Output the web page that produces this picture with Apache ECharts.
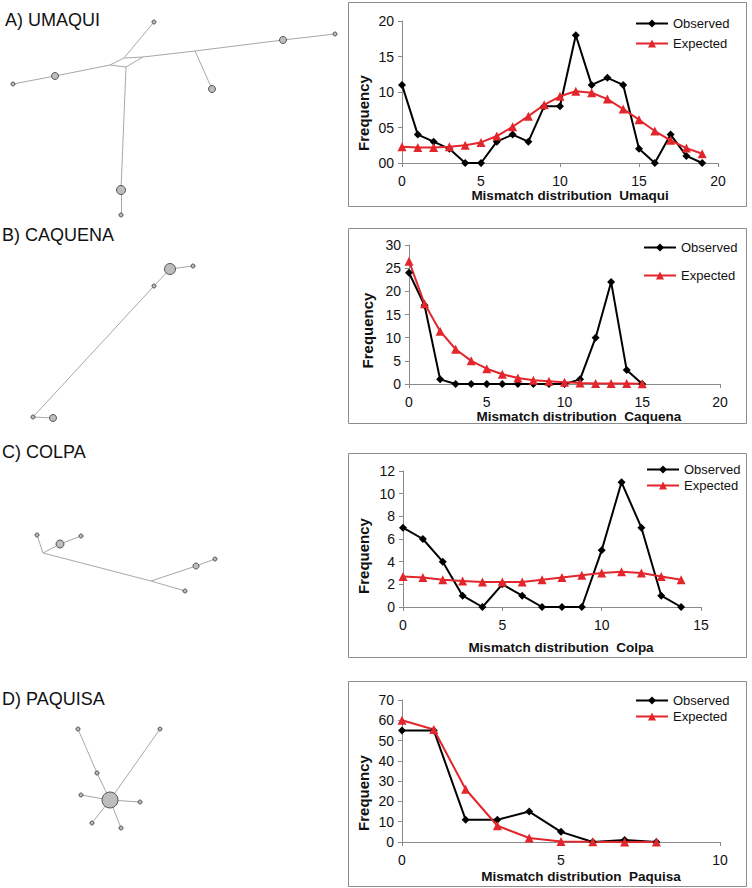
<!DOCTYPE html>
<html><head><meta charset="utf-8">
<script src="https://cdn.jsdelivr.net/npm/echarts@6/dist/echarts.min.js"></script>
<style>html,body{margin:0;padding:0;background:#fff}#c{width:752px;height:888px}</style>
</head><body><div id="c"></div>
<script>
const FONT = 'Arial, "Liberation Sans", sans-serif';

// ---------- Mismatch distribution data ----------
const mismatchUmaqui = [0,1,2,3,4,5,6,7,8,9,10,11,12,13,14,15,16,17,18,19];
const observedUmaqui = [11,4,3,2,0,0,3,4,3,8,8,18,11,12,11,2,0,4,1,0];
const expectedUmaqui = [2.3,2.2,2.2,2.3,2.5,2.9,3.8,5.1,6.6,8.2,9.4,10.1,9.9,9.0,7.6,6.1,4.5,3.2,2.1,1.3];

const mismatchCaquena = [0,1,2,3,4,5,6,7,8,9,10,11,12,13,14,15];
const observedCaquena = [24,17,1,0,0,0,0,0,0,0,0,1,10,22,3,0];
const expectedCaquena = [26.5,17.3,11.4,7.5,5.0,3.3,2.1,1.3,0.8,0.6,0.4,0.2,0.1,0.1,0.1,0.05];

const mismatchColpa = [0,1,2,3,4,5,6,7,8,9,10,11,12,13,14];
const observedColpa = [7,6,4,1,0,2,1,0,0,0,5,11,7,1,0];
const expectedColpa = [2.7,2.6,2.4,2.3,2.2,2.2,2.2,2.4,2.6,2.8,3.0,3.1,3.0,2.7,2.4];

const mismatchPaquisa = [0,1,2,3,4,5,6,7,8];
const observedPaquisa = [55,55,11,11,15,5,0,1,0];
const expectedPaquisa = [60,55.5,26,8,2,0.3,0.1,0,0];

// axis ranges / ticks
const xMaxes = [20,20,15,10];
const yMaxes = [20,30,12,70];
const yIntervals = [5,5,2,10];
const xTitles = ['Mismatch distribution  Umaqui','Mismatch distribution  Caquena','Mismatch distribution  Colpa','Mismatch distribution  Paquisa'];
const panelTitles = ['A) UMAQUI','B) CAQUENA','C) COLPA','D) PAQUISA'];

// ---------- Haplotype network data (local layout units, node size = haplotype frequency class) ----------
const netUmaquiNodes = [ // [x, y, size]
  [154,22,4],[283,40,7],[335,34,4],[55,76,7],[13,84,4],[212,89,7],[121,190,9],[121,215,4],
  [110,65,0],[124,58,0],[143,57,0],[126,67,0],[195,51,0]];
const netUmaquiLinks = [[4,3],[3,8],[8,9],[8,11],[9,0],[9,10],[11,10],[10,12],[12,1],[1,2],[12,5],[11,6],[6,7]];

const netCaquenaNodes = [[170,44,11],[193,41,4],[154,61,4],[33,192,4],[53,193,7]];
const netCaquenaLinks = [[0,1],[0,2],[2,3],[3,4]];

const netColpaNodes = [[37,85,4],[43,103,0],[60,94,8],[81,86,4],[151,131,0],[196,116,6],[215,109,4],[185,141,4]];
const netColpaLinks = [[0,1],[1,2],[2,3],[1,4],[4,7],[4,5],[5,6]];

const netPaquisaNodes = [[110,130,16],[78,59,4],[160,59,4],[97,103,4],[81,125,4],[140,132,4],[92,153,4],[121,158,4]];
const netPaquisaLinks = [[0,3],[3,1],[0,2],[0,4],[0,5],[0,6],[0,7]];

// ---------- layout ----------
const chartGrids = [
  {left:402, right:34, top:21, bottom:725},
  {left:409, right:32, top:245, bottom:504},
  {left:403, right:51, top:471, bottom:281},
  {left:402, right:32, top:700, bottom:46}
];
const xNameGap = [24,25,33,27];
const xNameShift = [20,29,18,40];
const yNameGap = [31,34,32,31];
const yNameShift = [42,32,34,44];
const legendPos = [{left:635,top:17,gap:7},{left:643,top:241,gap:15},{left:646,top:463,gap:3},{left:635,top:694,gap:3}];
const frames = [[2,206],[228,423],[453,657],[681,886]];
const netGrids = [
  {top:0, height:220}, {top:225, height:200}, {top:450, height:160}, {top:670, height:170}
];
const titleTops = [11,226,443,690];
const titleLefts = [5,2,2,2];

const chartData = [
  [mismatchUmaqui, observedUmaqui, expectedUmaqui],
  [mismatchCaquena, observedCaquena, expectedCaquena],
  [mismatchColpa, observedColpa, expectedColpa],
  [mismatchPaquisa, observedPaquisa, expectedPaquisa]
];
const nets = [
  [netUmaquiNodes, netUmaquiLinks],
  [netCaquenaNodes, netCaquenaLinks],
  [netColpaNodes, netColpaLinks],
  [netPaquisaNodes, netPaquisaLinks]
];

const grid = [], xAxis = [], yAxis = [], series = [], legend = [], title = [], graphic = [];
const axisGray = '#8a8a8a';

chartData.forEach((d, i) => {
  grid.push(Object.assign({containLabel:false}, chartGrids[i]));
  xAxis.push({
    type:'value', gridIndex:i, min:0, max:xMaxes[i], interval:5,
    splitLine:{show:false},
    axisLine:{show:true, lineStyle:{color:axisGray, width:1}},
    axisTick:{show:true, length:4, lineStyle:{color:axisGray}},
    axisLabel:{fontSize:14, color:'#111', fontFamily:FONT, margin:11},
    name:xTitles[i], nameLocation:'middle', nameGap:xNameGap[i],
    nameTextStyle:{fontSize:13.5, fontWeight:'bold', color:'#111', fontFamily:FONT, padding:[0,0,0,xNameShift[i]]}
  });
  yAxis.push({
    type:'value', gridIndex:i, min:0, max:yMaxes[i], interval:yIntervals[i],
    splitLine:{show:false},
    axisLine:{show:true, lineStyle:{color:axisGray, width:1}},
    axisTick:{show:true, length:4, lineStyle:{color:axisGray}},
    axisLabel:{fontSize:14, color:'#111', fontFamily:FONT, margin:8,
      formatter: i === 0 ? (v => String(v).padStart(2,'0')) : (v => String(v))},
    name:'Frequency', nameLocation:'middle', nameGap:yNameGap[i],
    nameTextStyle:{fontSize:15, fontWeight:'bold', color:'#111', fontFamily:FONT, padding:[0,yNameShift[i],0,0]}
  });
  series.push({
    name:'Observed', type:'line', xAxisIndex:i, yAxisIndex:i,
    data:d[0].map((x,k)=>[x,d[1][k]]),
    symbol:'diamond', symbolSize:8, color:'#000',
    lineStyle:{color:'#000', width:2}, itemStyle:{color:'#000'}, animation:false
  });
  series.push({
    name:'Expected', type:'line', xAxisIndex:i, yAxisIndex:i,
    data:d[0].map((x,k)=>[x,d[2][k]]),
    symbol:'triangle', symbolSize:9, color:'#e3262c',
    lineStyle:{color:'#e3262c', width:2}, itemStyle:{color:'#e3262c'}, animation:false
  });
  legend.push({
    data:['Observed','Expected'], orient:'vertical', left:legendPos[i].left, top:legendPos[i].top,
    itemWidth:32, itemHeight:10, itemGap:legendPos[i].gap, padding:0,
    textStyle:{fontSize:13, color:'#111', fontFamily:FONT}, selectedMode:false
  });
  graphic.push({
    type:'rect', shape:{x:348.5, y:frames[i][0]+0.5, width:398, height:frames[i][1]-frames[i][0]},
    style:{fill:'none', stroke:'#8c8c8c', lineWidth:1}, silent:true, z:-1
  });
});

nets.forEach((n, i) => {
  const gi = 4 + i;
  grid.push({left:0, width:345, top:netGrids[i].top, height:netGrids[i].height});
  xAxis.push({type:'value', gridIndex:gi, min:0, max:345, show:false});
  yAxis.push({type:'value', gridIndex:gi, min:0, max:netGrids[i].height, inverse:true, show:false});
  series.push({
    type:'graph', coordinateSystem:'cartesian2d', xAxisIndex:gi, yAxisIndex:gi,
    data:n[0].map(p => ({value:[p[0],p[1]], symbolSize:p[2], symbol: p[2] > 0 ? 'circle' : 'none'})),
    links:n[1].map(l => ({source:l[0], target:l[1]})),
    itemStyle:{color:'#bdbdbd', borderColor:'#555', borderWidth:1},
    lineStyle:{color:'#a8a8a8', width:1, opacity:1, curveness:0},
    label:{show:false}, emphasis:{disabled:true}, silent:true, animation:false
  });
  title.push({text:panelTitles[i], left:titleLefts[i], top:titleTops[i], padding:0,
    textStyle:{fontSize:18, fontWeight:'normal', color:'#111', fontFamily:FONT}});
});

const chart = echarts.init(document.getElementById('c'), null, {renderer:'svg'});
chart.setOption({backgroundColor:'#fff', animation:false, title, grid, xAxis, yAxis, series, legend, graphic});
</script>
</body></html>
